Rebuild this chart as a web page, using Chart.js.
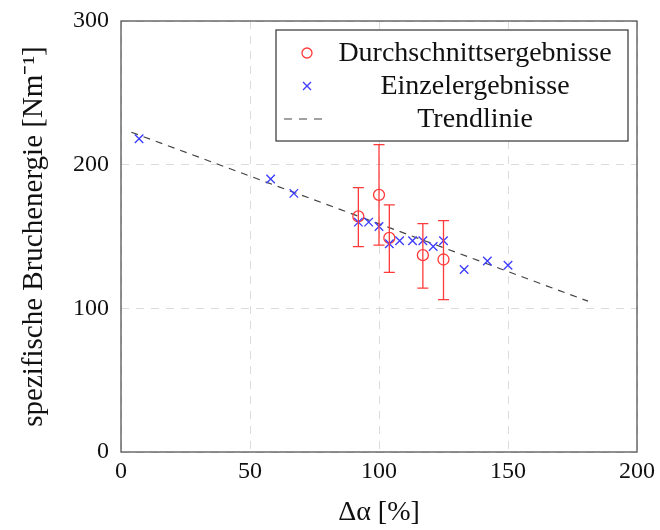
<!DOCTYPE html>
<html><head><meta charset="utf-8">
<script src="https://cdn.jsdelivr.net/npm/chart.js@4"></script>
<style>html,body{margin:0;padding:0;background:#fff}#wrap{width:660px;height:530px}</style>
</head><body><div id="wrap"><canvas id="c" width="660" height="530"></canvas></div>
<script>
// ---- data ----
const avgLabel = 'Durchschnittsergebnisse';
const avgX = [92, 100, 104, 117, 125];
const avgY = [164, 179, 149, 137, 134];
const avgLow = [143, 144, 125, 114, 106];
const avgHigh = [184, 214, 172, 159, 161];

const singleLabel = 'Einzelergebnisse';
const singleX = [7, 58, 67, 92, 96, 100, 104, 108, 113, 117, 121, 125, 133, 142, 150];
const singleY = [218, 190, 180, 160, 160, 157, 145, 147, 147, 147, 143, 147, 127, 133, 130];

const trendLabel = 'Trendlinie';
const trendX = [4, 181];
const trendY = [222.6, 105];

const xTicks = [0, 50, 100, 150, 200];
const yTicks = [0, 100, 200, 300];
const xTitle = 'Δα [%]';
const yTitle = 'spezifische Bruchenergie [Nm⁻¹]';

// ---- styles ----
const RED = '#ff3a3a';
const BLUE = '#3a3aff';
const DARK = '#444444';
const TEXT = '#111111';
const FONT = "'Liberation Serif', 'Times New Roman', serif";

const toPts = (xs, ys) => xs.map((v, i) => ({x: v, y: ys[i]}));

const framePlugin = {
  id: 'frame',
  beforeDatasetsDraw(chart) {
    const {ctx, chartArea: a} = chart;
    ctx.save();
    ctx.strokeStyle = '#555';
    ctx.lineWidth = 1.3;
    ctx.strokeRect(a.left, a.top, a.right - a.left, a.bottom - a.top);
    ctx.restore();
  }
};

const errorBars = {
  id: 'errorBars',
  afterDatasetsDraw(chart) {
    const {ctx, scales: {x, y}} = chart;
    ctx.save();
    ctx.strokeStyle = RED;
    ctx.lineWidth = 1.3;
    avgX.forEach((v, i) => {
      const px = x.getPixelForValue(v);
      const lo = y.getPixelForValue(avgLow[i]);
      const hi = y.getPixelForValue(avgHigh[i]);
      ctx.beginPath();
      ctx.moveTo(px, lo); ctx.lineTo(px, hi);
      ctx.moveTo(px - 5.5, lo); ctx.lineTo(px + 5.5, lo);
      ctx.moveTo(px - 5.5, hi); ctx.lineTo(px + 5.5, hi);
      ctx.stroke();
    });
    ctx.restore();
  }
};

const boxLegend = {
  id: 'boxLegend',
  afterDraw(chart) {
    const {ctx, chartArea: a} = chart;
    const w = 352, h = 111;
    const left = a.right - 9 - w, top = a.top + 9;
    ctx.save();
    ctx.fillStyle = '#fff';
    ctx.fillRect(left, top, w, h);
    ctx.strokeStyle = '#333';
    ctx.lineWidth = 1.2;
    ctx.strokeRect(left, top, w, h);
    const rows = [top + 23, top + 56, top + 89];
    const sx = left + 31;
    // circle
    ctx.strokeStyle = RED; ctx.lineWidth = 1.3;
    ctx.beginPath(); ctx.arc(sx, rows[0], 5, 0, Math.PI * 2); ctx.stroke();
    // cross
    ctx.strokeStyle = BLUE;
    ctx.beginPath();
    ctx.moveTo(sx - 4, rows[1] - 4); ctx.lineTo(sx + 4, rows[1] + 4);
    ctx.moveTo(sx - 4, rows[1] + 4); ctx.lineTo(sx + 4, rows[1] - 4);
    ctx.stroke();
    // dashed
    ctx.strokeStyle = DARK; ctx.lineWidth = 1.2;
    ctx.setLineDash([8, 7]);
    ctx.beginPath(); ctx.moveTo(left + 8, rows[2]); ctx.lineTo(left + 50, rows[2]); ctx.stroke();
    ctx.setLineDash([]);
    ctx.fillStyle = TEXT;
    ctx.font = '28px ' + FONT;
    ctx.textAlign = 'center';
    ctx.textBaseline = 'middle';
    const labels = chart.data.datasets.map(d => d.label);
    labels.forEach((t, i) => ctx.fillText(t, left + 199, rows[i] + 1));
    ctx.restore();
  }
};

new Chart(document.getElementById('c'), {
  type: 'scatter',
  data: {
    datasets: [
      {label: avgLabel, data: toPts(avgX, avgY), pointStyle: 'circle', pointRadius: 5.5,
       borderColor: RED, backgroundColor: 'rgba(0,0,0,0)', borderWidth: 1.3, showLine: false, order: 1},
      {label: singleLabel, data: toPts(singleX, singleY), pointStyle: 'crossRot', pointRadius: 6,
       borderColor: BLUE, backgroundColor: BLUE, borderWidth: 1.3, showLine: false, order: 0},
      {label: trendLabel, data: toPts(trendX, trendY), showLine: true, pointRadius: 0,
       borderColor: DARK, borderWidth: 1.2, borderDash: [7, 6], fill: false, order: 2}
    ]
  },
  options: {
    responsive: false,
    animation: false,
    devicePixelRatio: 1,
    layout: {padding: {left: 0, top: 21, right: 23, bottom: 0}},
    plugins: {legend: {display: false}, tooltip: {enabled: false}},
    scales: {
      x: {
        type: 'linear', min: 0, max: 200,
        afterBuildTicks: s => { s.ticks = xTicks.map(v => ({value: v})); },
        afterFit: s => { s.height = 78; },
        ticks: {font: {family: FONT, size: 24}, color: TEXT, padding: 5, maxRotation: 0},
        grid: {color: '#dcdcdc', lineWidth: 1, drawTicks: false},
        border: {display: false, dash: [8, 7]},
        title: {display: true, text: xTitle, font: {family: FONT, size: 28}, color: TEXT, padding: {top: 2, bottom: 1}}
      },
      y: {
        type: 'linear', min: 0, max: 300,
        afterBuildTicks: s => { s.ticks = yTicks.map(v => ({value: v})); },
        afterFit: s => { s.width = 121; s.paddingTop = 0; s.paddingBottom = 0; },
        ticks: {font: {family: FONT, size: 24, lineHeight: 0.8}, color: TEXT, padding: 12},
        grid: {color: '#dcdcdc', lineWidth: 1, drawTicks: false},
        border: {display: false, dash: [8, 7]},
        title: {display: true, text: yTitle, font: {family: FONT, size: 29}, color: TEXT, padding: {top: 17, bottom: 0}}
      }
    }
  },
  plugins: [framePlugin, errorBars, boxLegend]
});
</script></body></html>
